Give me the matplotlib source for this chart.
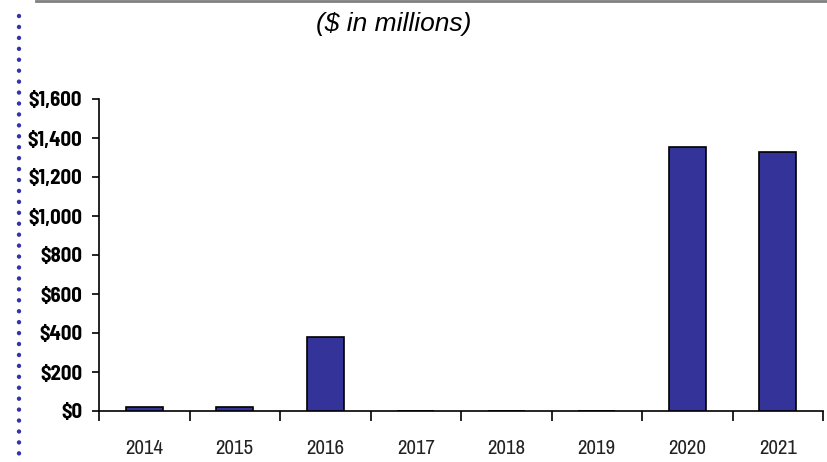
import matplotlib
matplotlib.use("Agg")
import matplotlib.pyplot as plt
from matplotlib.lines import Line2D
from matplotlib.ticker import FuncFormatter, FixedLocator

years = ["2014", "2015", "2016", "2017", "2018", "2019", "2020", "2021"]
values = [20, 20, 380, 0, 0, 0, 1352, 1330]
yticks = [0, 200, 400, 600, 800, 1000, 1200, 1400, 1600]

W, H = 827, 462
fig = plt.figure(figsize=(W / 100, H / 100), dpi=100)
ax = fig.add_axes([99 / W, 51 / H, (823 - 99) / W, (411 - 99) / H])

x = list(range(len(years)))
ax.bar(x, values, width=0.41, color="#333399", edgecolor="black", linewidth=1.2, zorder=3)

ax.set_xlim(-0.5, len(years) - 0.5)
ax.set_ylim(0, 1600)
ax.set_yticks(yticks)
ax.yaxis.set_major_formatter(FuncFormatter(lambda v, p: f"${int(v):,}"))
ax.set_xticks(x)
ax.set_xticklabels(years)
ax.xaxis.set_minor_locator(FixedLocator([i - 0.5 for i in range(len(years) + 1)]))
ax.tick_params(axis="x", which="major", length=0, pad=20, labelsize=15)
ax.tick_params(axis="x", which="minor", length=7, width=1.2, direction="out")
ax.tick_params(axis="y", length=5, width=1.2, direction="out", labelsize=15, pad=7)

yfam = ["Barlow Semi Condensed", "Liberation Sans", "DejaVu Sans"]
xfam = ["Archivo Narrow", "Liberation Sans", "DejaVu Sans"]
for lab in ax.get_yticklabels():
    lab.set_fontfamily(yfam)
    lab.set_fontweight("bold")
for lab in ax.get_xticklabels():
    lab.set_fontfamily(xfam)
    lab.set_color("#222222")

for s in ["top", "right"]:
    ax.spines[s].set_visible(False)
ax.spines["left"].set_linewidth(1.2)
ax.spines["bottom"].set_linewidth(1.2)

fig.text(394 / W, 1 - 24 / H, "($ in millions)", ha="center", va="center",
         fontsize=19, style="italic", family=["Liberation Sans", "DejaVu Sans"])

# decorative gray top line
fig.add_artist(Line2D([36 / W, 1.0], [1 - 1 / H, 1 - 1 / H], color="#808080", lw=2,
                      transform=fig.transFigure))
# decorative dotted vertical line
fig.add_artist(Line2D([19 / W, 19 / W], [1 - 16 / H, 0.0], color="#3333AA", lw=3.2,
                      linestyle=(0, (0.01, 2.45)), dash_capstyle="round",
                      transform=fig.transFigure))

fig.savefig("out.png", dpi=100)
